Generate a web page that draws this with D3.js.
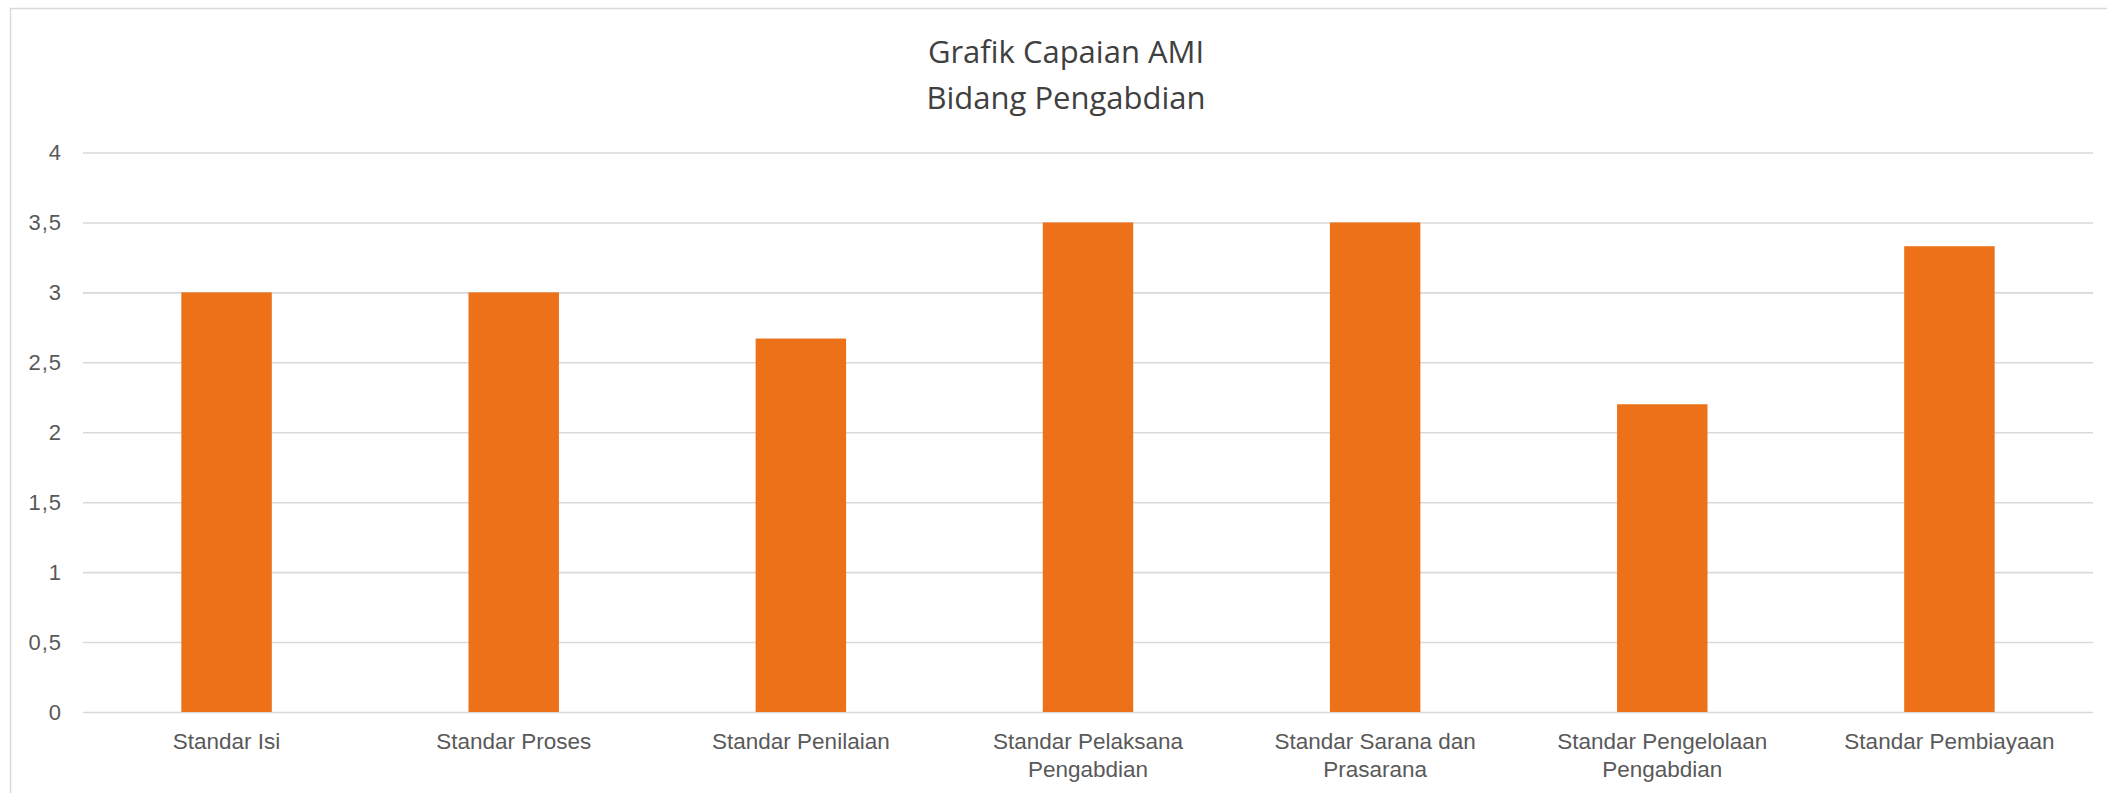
<!DOCTYPE html>
<html><head><meta charset="utf-8">
<script src="https://cdn.jsdelivr.net/npm/d3@7"></script>
<style>html,body{margin:0;padding:0;background:#fff;overflow:hidden}</style>
</head><body><svg id="chart" width="2107" height="793"></svg>
<script>
const categories = ["Standar Isi", "Standar Proses", "Standar Penilaian", "Standar Pelaksana Pengabdian", "Standar Sarana dan Prasarana", "Standar Pengelolaan Pengabdian", "Standar Pembiayaan"];
const values = [3, 3, 2.67, 3.5, 3.5, 2.2, 3.33];
const yTicks = [0, 0.5, 1, 1.5, 2, 2.5, 3, 3.5, 4];
const titleLines = ["Grafik Capaian AMI", "Bidang Pengabdian"];

const W = 2107, H = 793;
const m = {left: 83, right: 14, top: 152.5, bottom: 81};
const svg = d3.select("#chart");

// chart border
svg.append("rect").attr("x", 10.5).attr("y", 8.5).attr("width", W + 20).attr("height", H + 20)
  .attr("fill", "#fff").attr("stroke", "#d9d9d9").attr("stroke-width", 1.5);

const x = d3.scaleBand().domain(categories).range([m.left, W - m.right]).paddingInner(0.685).paddingOuter(0.3425);
const y = d3.scaleLinear().domain([0, 4]).range([H - m.bottom, m.top]);

// title
const title = svg.append("text").attr("text-anchor", "middle")
  .attr("font-family", "'Open Sans', sans-serif").attr("font-size", 31).attr("fill", "#404040");
titleLines.forEach((t, i) => {
  title.append("tspan").attr("x", 1066).attr("y", 63 + i * 46).text(t);
});

// y axis with gridlines
const yAxis = svg.append("g").attr("transform", `translate(${m.left},0)`)
  .call(d3.axisLeft(y).tickValues(yTicks).tickSize(-(W - m.right - m.left)).tickPadding(21)
    .tickFormat(d => String(d).replace(".", ",")));
yAxis.select(".domain").remove();
yAxis.selectAll(".tick line").attr("stroke", "#d9d9d9").attr("stroke-width", 1.6);
yAxis.selectAll(".tick text").attr("font-family", "'Liberation Sans', Arial, sans-serif")
  .attr("font-size", 22).attr("fill", "#595959").attr("letter-spacing", 1);

// bars
svg.append("g").selectAll("rect").data(values).join("rect")
  .attr("x", (d, i) => x(categories[i]))
  .attr("y", d => y(d))
  .attr("width", x.bandwidth())
  .attr("height", d => y(0) - y(d))
  .attr("fill", "#ec7118");

// x axis
const xAxis = svg.append("g").attr("transform", `translate(0,${y(0)})`)
  .call(d3.axisBottom(x).tickSize(0).tickPadding(0));
xAxis.select(".domain").remove();
xAxis.selectAll(".tick text").each(function(d) {
  const t = d3.select(this);
  t.text(null).attr("y", 0).attr("dy", null)
    .attr("font-family", "'Liberation Sans', Arial, sans-serif")
    .attr("font-size", 22.5).attr("fill", "#595959").attr("text-anchor", "middle");
  const words = d.split(" ");
  const maxW = 275;
  let lines = [], cur = [];
  const probe = t.append("tspan");
  words.forEach(w => {
    const test = cur.concat([w]).join(" ");
    probe.text(test);
    if (probe.node().getComputedTextLength() > maxW && cur.length) {
      lines.push(cur.join(" ")); cur = [w];
    } else cur.push(w);
  });
  lines.push(cur.join(" "));
  probe.remove();
  lines.forEach((ln, i) => {
    t.append("tspan").attr("x", 0).attr("y", 37 + i * 28).text(ln);
  });
});
</script></body></html>
